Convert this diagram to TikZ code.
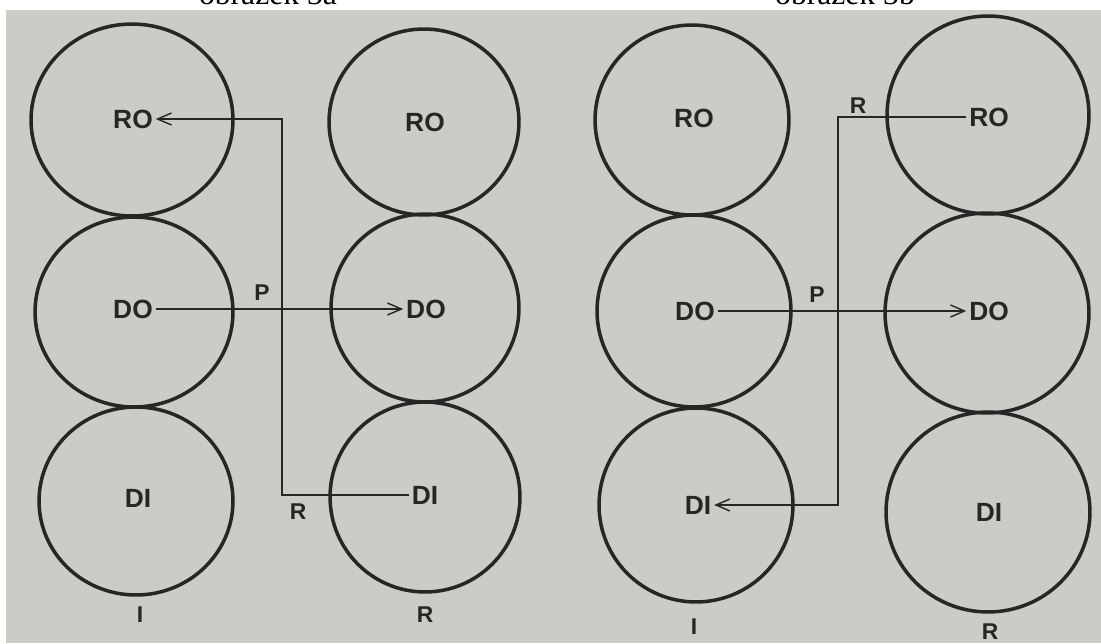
\documentclass[tikz,border=0pt]{standalone}
\usepackage{fontspec}
\setmainfont{Liberation Serif}
\setsansfont{Liberation Sans}
\usetikzlibrary{shapes.geometric,arrows.meta}

\definecolor{photogray}{RGB}{204,204,199}
\definecolor{ink}{RGB}{38,38,38}

\begin{document}
\begin{tikzpicture}[x=0.02cm, y=-0.02cm,
    roll/.style 2 args={ellipse, draw=ink, line width=2pt, inner sep=0pt,
        minimum width=0.04cm*#1, minimum height=0.04cm*#2},
    lbl/.style={text=ink, inner sep=1.5pt, font=\sffamily\bfseries\fontsize{15}{17}\selectfont},
    tag/.style={text=ink, inner sep=1pt, font=\sffamily\bfseries\fontsize{13}{15}\selectfont},
    flow/.style={draw=ink, line width=0.8pt},
    >={Straight Barb[length=2.8mm, width=2.4mm]}]
    % page and photo
    \useasboundingbox (0,0) rectangle (1101,643);
    \fill [white] (0,0) rectangle (1101,643);
    \fill [photogray] (6,10) rectangle (1101,643);
    % captions, cut off at the top
    \node (capA) [anchor=base, inner sep=0pt, font=\fontsize{18}{20}\selectfont] at (268,4) {obrázek 3a};
    \node (capB) [anchor=base, inner sep=0pt, font=\fontsize{18}{20}\selectfont] at (845,4) {obrázek 3b};

    % obrazek 3a: circles
    \node (aIroC) [roll={101}{96}] at (132,120) {};
    \node (aIdoC) [roll={99}{95}] at (134,312) {};
    \node (aIdiC) [roll={97}{94}] at (136,501) {};
    \node (aRroC) [roll={95}{93}] at (424,122) {};
    \node (aRdoC) [roll={94}{94}] at (425,308) {};
    \node (aRdiC) [roll={95}{95}] at (425,497) {};
    % obrazek 3b: circles
    \node (bIroC) [roll={97}{95}] at (692,120) {};
    \node (bIdoC) [roll={97}{96}] at (694,311) {};
    \node (bIdiC) [roll={97}{97}] at (696,505) {};
    \node (bRroC) [roll={101}{99}] at (988,115) {};
    \node (bRdoC) [roll={102}{100}] at (987,313) {};
    \node (bRdiC) [roll={102}{100}] at (988,512) {};

    % labels in the circles
    \node (aIro) [lbl] at (133,119) {RO};
    \node (aIdo) [lbl] at (133,309) {DO};
    \node (aIdi) [lbl] at (138,498) {DI};
    \node (aRro) [lbl] at (425,122) {RO};
    \node (aRdo) [lbl] at (426,309) {DO};
    \node (aRdi) [lbl] at (425,495) {DI};
    \node (bIro) [lbl] at (694,118) {RO};
    \node (bIdo) [lbl] at (695,311) {DO};
    \node (bIdi) [lbl] at (698,505) {DI};
    \node (bRro) [lbl] at (989,117) {RO};
    \node (bRdo) [lbl] at (989,311) {DO};
    \node (bRdi) [lbl] at (989,512) {DI};

    % column and line labels
    \node (aI) [tag] at (140,615) {I};
    \node (aR) [tag] at (425,615) {R};
    \node (bI) [tag] at (694,627) {I};
    \node (bR) [tag] at (990,632) {R};
    \node (aP) [tag] at (262,293) {P};
    \node (aRline) [tag] at (298,512) {R};
    \node (bP) [tag] at (817,295) {P};
    \node (bRline) [tag] at (858,106) {R};

    % arrows
    \coordinate (aTurn) at (282,300);
    \coordinate (bTurn) at (838,300);
    \draw[flow, ->] (aIdo.east) -- (aRdo.west);
    \draw[flow, ->] (aRdi.west) -| (aTurn) |- (aIro.east);
    \draw[flow, ->] (bIdo.east) -- (bRdo.west);
    \draw[flow, ->] (bRro.west) -| (bTurn) |- (bIdi.east);
\end{tikzpicture}
\end{document}
